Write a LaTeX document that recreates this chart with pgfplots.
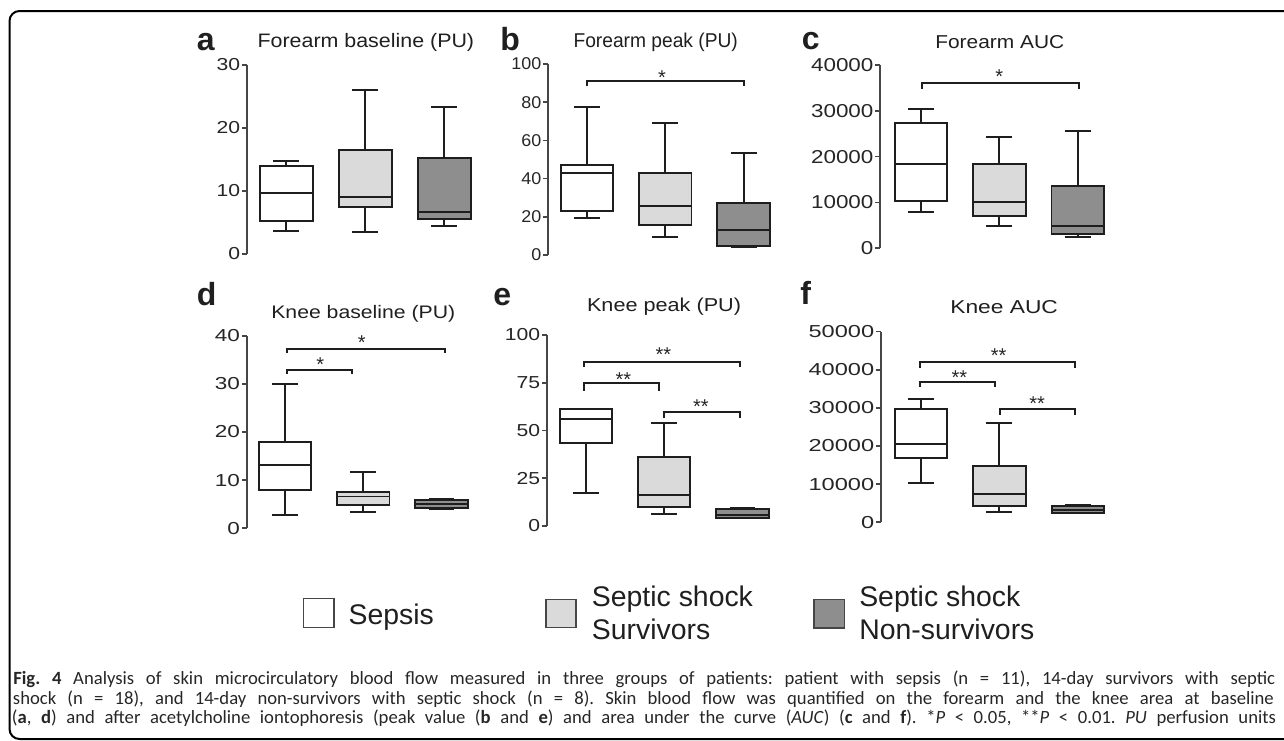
\documentclass[border=0pt]{standalone}
\usepackage{fontspec}
\setmainfont{Liberation Sans}
\newfontfamily\capfont{Carlito}
\usepackage{pgfplots}
\pgfplotsset{compat=1.18}
\usepgfplotslibrary{statistics}
\definecolor{lgray}{RGB}{218,218,218}
\definecolor{dgray}{RGB}{142,142,142}
\definecolor{lc}{RGB}{30,30,30}
\definecolor{axc}{RGB}{70,70,70}
\newcommand{\fs}[1]{\fontsize{#1}{#1}\selectfont}
\tikzset{
  bx/.style={draw=lc, line width=1.45pt, fill=#1, solid},
  br/.style={draw=lc, line width=1.45pt},
  st/.style={font=\fs{15pt}, text=black!85, anchor=center, yshift=-3.3pt, inner sep=0pt},
}
\pgfplotsset{
  panel/.style={
    scale only axis,
    anchor=south west,
    axis x line=none,
    axis y line*=left,
    xtick=\empty,
    xmin=0.5, xmax=3.5,
    ymin=0,
    clip=false,
    axis line style={axc, line width=1.5pt},
    every tick/.style={axc, line width=1.3pt},
    tick align=outside,
    major tick length=3.5pt,
    ytick pos=left,
    scaled y ticks=false,
    /pgf/number format/assume math mode=true,
    /pgf/number format/fixed,
    /pgf/number format/1000 sep={},
    boxplot/draw direction=y,
    boxplot/box extend=0.67,
    boxplot/whisker extend=0.33,
    tick label style={text=black!85},
    yticklabel style={inner sep=1pt},
  },
}
\newcommand{\capline}[1]{\capfont\fs{14pt}\frenchspacing\spaceskip=0.42em plus 1em minus 0.05em #1}
\begin{document}
\begin{tikzpicture}[x=0.75pt,y=-0.75pt]
\path[use as bounding box] (0,0) rectangle (1284,740);
\begin{scope}
\clip (0,0) rectangle (1284,740);
\draw[line width=1.5pt, rounded corners=7.5pt] (9.5,11) rectangle (1310,739);
\end{scope}

% ---------- panel a ----------
\begin{axis}[panel, at={(185pt,-190.5pt)}, width=177.75pt, height=141.75pt,
  ymax=30, ytick={0,10,20,30}, yticklabel style={font=\fs{13pt}, xscale=1.22}]
\addplot[bx=white, boxplot prepared={draw position=1, lower whisker=3.6, lower quartile=5.2, median=9.7, upper quartile=14.0, upper whisker=14.7}] coordinates {};
\addplot[bx=lgray, boxplot prepared={draw position=2, lower whisker=3.5, lower quartile=7.5, median=9.1, upper quartile=16.5, upper whisker=26.0}] coordinates {};
\addplot[bx=dgray, boxplot prepared={draw position=3, lower whisker=4.5, lower quartile=5.5, median=6.6, upper quartile=15.2, upper whisker=23.4}] coordinates {};
\end{axis}

% ---------- panel b ----------
\begin{axis}[panel, at={(410.8pt,-191.25pt)}, width=176.25pt, height=143.25pt,
  ymax=100, ytick={0,20,40,60,80,100}, yticklabel style={font=\fs{12.8pt}, xscale=1.05}]
\addplot[bx=white, boxplot prepared={draw position=1, lower whisker=19.5, lower quartile=23, median=43, upper quartile=47, upper whisker=77.7}] coordinates {};
\addplot[bx=lgray, boxplot prepared={draw position=2, lower whisker=9.2, lower quartile=15.7, median=25.7, upper quartile=43, upper whisker=69}] coordinates {};
\addplot[bx=dgray, boxplot prepared={draw position=3, lower whisker=4, lower quartile=4.7, median=13, upper quartile=27, upper whisker=53.4}] coordinates {};
\draw[br] (axis cs:1,88.7) -- (axis cs:1,91.3) -- (axis cs:3,91.3) -- (axis cs:3,88.7);
\node[st] at (axis cs:1.96,95) {*};
\end{axis}

% ---------- panel c ----------
\begin{axis}[panel, at={(660pt,-186.2pt)}, width=177.75pt, height=137.5pt, xmin=0.478,
  ymax=40000, ytick={0,10000,20000,30000,40000}, yticklabel style={font=\fs{14pt}, xscale=1.2}]
\addplot[bx=white, boxplot prepared={draw position=1, lower whisker=7930, lower quartile=10330, median=18330, upper quartile=27420, upper whisker=30470}] coordinates {};
\addplot[bx=lgray, boxplot prepared={draw position=2, lower whisker=4870, lower quartile=7050, median=10040, upper quartile=18470, upper whisker=24360}] coordinates {};
\addplot[bx=dgray, boxplot prepared={draw position=3, lower whisker=2550, lower quartile=3050, median=4870, upper quartile=13670, upper whisker=25600}] coordinates {};
\draw[br] (axis cs:1.01,34700) -- (axis cs:1.01,36000) -- (axis cs:3.01,36000) -- (axis cs:3.01,34700);
\node[st] at (axis cs:2,38500) {*};
\end{axis}

% ---------- panel d ----------
\begin{axis}[panel, at={(185pt,-396.2pt)}, width=175.5pt, height=144.45pt, xmin=0.51,
  ymax=40, ytick={0,10,20,30,40}, yticklabel style={font=\fs{13pt}, xscale=1.3}]
\addplot[bx=white, boxplot prepared={draw position=1, lower whisker=2.7, lower quartile=7.95, median=13.2, upper quartile=18, upper whisker=30}] coordinates {};
\addplot[bx=lgray, boxplot prepared={draw position=2, lower whisker=3.4, lower quartile=4.8, median=6.6, upper quartile=7.5, upper whisker=11.6}] coordinates {};
\addplot[bx=dgray, boxplot prepared={draw position=3, lower whisker=4.0, lower quartile=4.3, median=5.1, upper quartile=5.8, upper whisker=6.0}] coordinates {};
\draw[br] (axis cs:1.02,36.3) -- (axis cs:1.02,37.2) -- (axis cs:3.04,37.2) -- (axis cs:3.04,36.3);
\node[st] at (axis cs:1.98,39.4) {*};
\draw[br] (axis cs:1.02,32.05) -- (axis cs:1.02,32.9) -- (axis cs:1.85,32.9) -- (axis cs:1.85,32.05);
\node[st] at (axis cs:1.45,34.9) {*};
\end{axis}

% ---------- panel e ----------
\begin{axis}[panel, at={(410pt,-394.5pt)}, width=176.25pt, height=143.25pt,
  ymax=100, ytick={0,25,50,75,100}, yticklabel style={font=\fs{13pt}, xscale=1.22}]
\addplot[bx=white, boxplot prepared={draw position=1, lower whisker=17.5, lower quartile=43.6, median=56, upper quartile=61.1, upper whisker=61.2}] coordinates {};
\addplot[bx=lgray, boxplot prepared={draw position=2, lower whisker=6.1, lower quartile=9.8, median=16.2, upper quartile=36.3, upper whisker=53.8}] coordinates {};
\addplot[bx=dgray, boxplot prepared={draw position=3, lower whisker=4.0, lower quartile=4.1, median=5.8, upper quartile=8.7, upper whisker=9.25}] coordinates {};
\draw[br] (axis cs:0.98,83) -- (axis cs:0.98,86) -- (axis cs:2.97,86) -- (axis cs:2.97,83);
\node[st] at (axis cs:1.99,92) {**};
\draw[br] (axis cs:0.98,70.9) -- (axis cs:0.98,74.7) -- (axis cs:1.93,74.7) -- (axis cs:1.93,70.9);
\node[st] at (axis cs:1.48,79) {**};
\draw[br] (axis cs:2.0,56.4) -- (axis cs:2.0,59.9) -- (axis cs:2.97,59.9) -- (axis cs:2.97,56.4);
\node[st] at (axis cs:2.47,64.7) {**};
\end{axis}

% ---------- panel f ----------
\begin{axis}[panel, at={(660.75pt,-391.7pt)}, width=177pt, height=143pt, xmin=0.49,
  ymax=50000, ytick={0,10000,20000,30000,40000,50000}, yticklabel style={font=\fs{13pt}, xscale=1.36}]
\addplot[bx=white, boxplot prepared={draw position=1, lower whisker=10400, lower quartile=16960, median=20450, upper quartile=29630, upper whisker=32260}] coordinates {};
\addplot[bx=lgray, boxplot prepared={draw position=2, lower whisker=2800, lower quartile=4370, median=7520, upper quartile=14860, upper whisker=25960}] coordinates {};
\addplot[bx=dgray, boxplot prepared={draw position=3, lower whisker=2360, lower quartile=2530, median=3230, upper quartile=4280, upper whisker=4545}] coordinates {};
\draw[br] (axis cs:0.99,40560) -- (axis cs:0.99,42130) -- (axis cs:2.97,42130) -- (axis cs:2.97,40560);
\node[st] at (axis cs:1.99,44760) {**};
\draw[br] (axis cs:0.99,35400) -- (axis cs:0.99,36890) -- (axis cs:1.94,36890) -- (axis cs:1.94,35400);
\node[st] at (axis cs:1.49,39070) {**};
\draw[br] (axis cs:2.01,28150) -- (axis cs:2.01,29720) -- (axis cs:2.97,29720) -- (axis cs:2.97,28150);
\node[st] at (axis cs:2.48,32260) {**};
\end{axis}

% ---------- panel letters and titles ----------
\begin{scope}[every node/.style={anchor=base west, inner sep=0pt, text=black!88}]
\node[font=\fs{24pt}\bfseries] at (196.7,50) {a};
\node[font=\fs{24pt}\bfseries] at (500,50) {b};
\node[font=\fs{24pt}\bfseries] at (801.7,49.3) {c};
\node[font=\fs{24pt}\bfseries] at (196.7,305) {d};
\node[font=\fs{24pt}\bfseries] at (493,305) {e};
\node[font=\fs{24pt}\bfseries] at (800,304) {f};
\node[font=\fs{14.6pt}, xscale=1.1] at (257.3,47.3) {Forearm baseline (PU)};
\node[font=\fs{15pt}, xscale=0.96] at (573.3,47.7) {Forearm peak (PU)};
\node[font=\fs{14pt}, xscale=1.12] at (935,48.3) {Forearm AUC};
\node[font=\fs{13.6pt}, xscale=1.17] at (271,318.3) {Knee baseline (PU)};
\node[font=\fs{14pt}, xscale=1.16] at (586.7,311.7) {Knee peak (PU)};
\node[font=\fs{14pt}, xscale=1.22] at (950,313.3) {Knee AUC};
% legend
\node[font=\fs{21.3pt}] at (348.3,624) {Sepsis};
\node[font=\fs{21.3pt}] at (591.7,606.7) {Septic shock};
\node[font=\fs{21.3pt}] at (591.7,639.3) {Survivors};
\node[font=\fs{21.3pt}] at (859,606.7) {Septic shock};
\node[font=\fs{21.3pt}] at (859,639.3) {Non-survivors};
% caption
\node[text=black!85] at (13,684.3) {\capline{\makebox[946.5pt][s]{\textbf{Fig. 4} Analysis of skin microcirculatory blood flow measured in three groups of patients: patient with sepsis (n = 11), 14-day survivors with septic}}};
\node[text=black!85] at (12.7,704.3) {\capline{\makebox[945.75pt][s]{shock (n = 18), and 14-day non-survivors with septic shock (n = 8). Skin blood flow was quantified on the forearm and the knee area at baseline}}};
\node[text=black!85] at (11.7,723.8) {\capline{\makebox[948pt][s]{(\textbf{a}, \textbf{d}) and after acetylcholine iontophoresis (peak value (\textbf{b} and \textbf{e}) and area under the curve (\textit{AUC}) (\textbf{c} and \textbf{f}). *\textit{P} < 0.05, **\textit{P} < 0.01. \textit{PU} perfusion units}}};
\end{scope}
\draw[draw=axc, line width=1.2pt, fill=white] (303.3,598.3) rectangle (334,627.3);
\draw[draw=axc, line width=1.2pt, fill=lgray] (545.7,599.3) rectangle (576,627.3);
\draw[draw=axc, line width=1.2pt, fill=dgray] (814,599.3) rectangle (844.3,627.7);
\end{tikzpicture}
\end{document}
